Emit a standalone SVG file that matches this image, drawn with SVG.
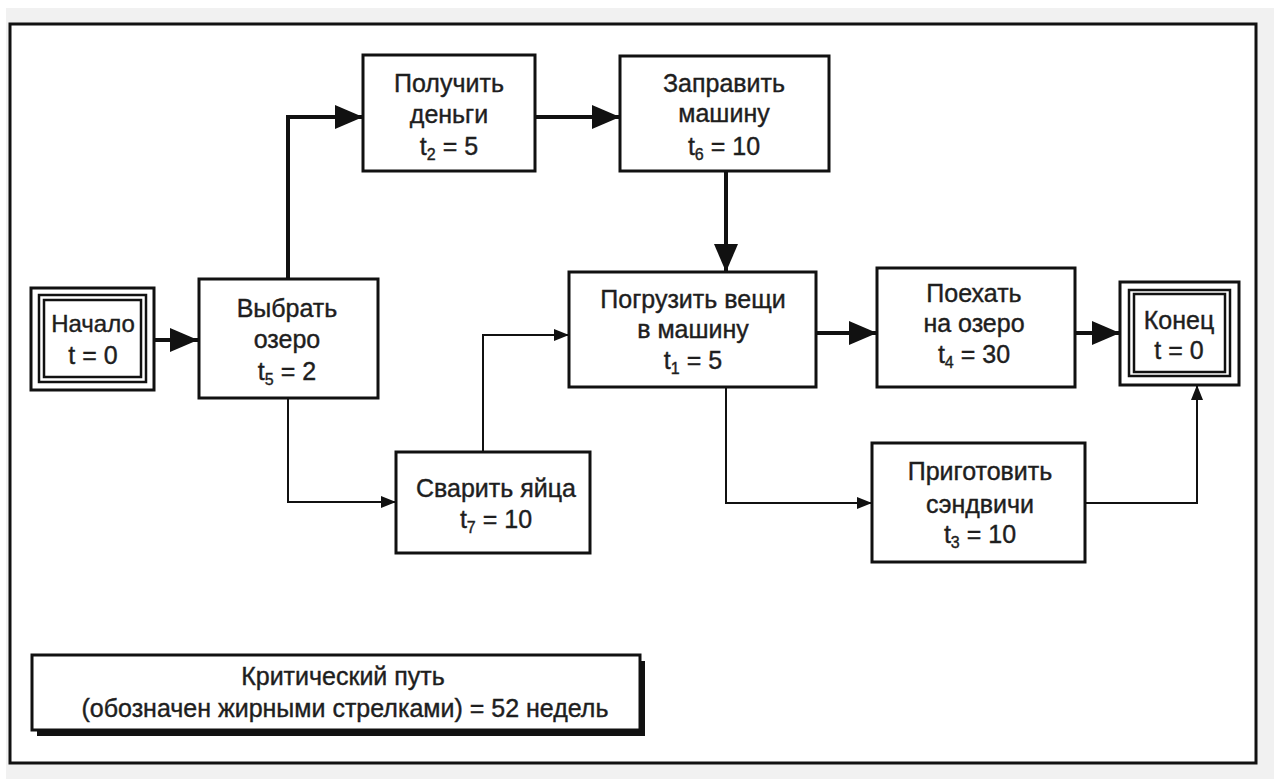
<svg xmlns="http://www.w3.org/2000/svg" width="1280" height="779" viewBox="0 0 1280 779">
<style>
.box{fill:#fff;stroke:#111;stroke-width:3}
.dbl{fill:none;stroke:#111;stroke-width:2.5}
.bold{fill:none;stroke:#111;stroke-width:4}
.thin{fill:none;stroke:#111;stroke-width:2}
text{font-family:"Liberation Sans",Arial,sans-serif;font-size:25px;fill:#1e1e1e;stroke:#1e1e1e;stroke-width:0.4;text-anchor:middle}
.sub{font-size:16px}
</style>
<defs>
<marker id="big" markerUnits="userSpaceOnUse" markerWidth="30" markerHeight="24" refX="28" refY="12" orient="auto">
<path d="M0,0 L28,12 L0,24 Z" fill="#111"/>
</marker>
<marker id="small" markerUnits="userSpaceOnUse" markerWidth="16" markerHeight="12" refX="15" refY="6" orient="auto">
<path d="M0,0 L15,6 L0,12 Z" fill="#111"/>
</marker>
</defs>
<rect x="0" y="0" width="1280" height="779" fill="#fff"/>
<rect x="6" y="8" width="1268" height="771" fill="#f1f1f1"/>
<rect id="frame" x="10" y="24" width="1246" height="739" fill="#fff" stroke="#111" stroke-width="3"/>

<g id="connectors">
<path class="bold" d="M155,340 H198" marker-end="url(#big)"/>
<path class="bold" d="M288,279 V117 H363" marker-end="url(#big)"/>
<path class="bold" d="M535,117 H620" marker-end="url(#big)"/>
<path class="bold" d="M726,171 V272" marker-end="url(#big)"/>
<path class="bold" d="M816,333 H877" marker-end="url(#big)"/>
<path class="bold" d="M1075,333 H1120" marker-end="url(#big)"/>
<path class="thin" d="M288,398 V502 H396" marker-end="url(#small)"/>
<path class="thin" d="M483,452 V335 H569" marker-end="url(#small)"/>
<path class="thin" d="M726,387 V503 H872" marker-end="url(#small)"/>
<path class="thin" d="M1085,503 H1197 V385" marker-end="url(#small)"/>
</g>

<g id="start">
<rect class="box" x="31" y="288" width="123" height="102"/>
<rect class="dbl" x="39" y="295" width="107" height="87"/>
<rect class="dbl" x="44" y="300" width="97" height="77"/>
<text x="93" y="332" style="font-size:24px">Начало</text>
<text x="93" y="364">t = 0</text>
</g>

<g id="choose">
<rect class="box" x="199" y="279" width="179" height="119"/>
<text x="287" y="317">Выбрать</text>
<text x="287" y="348">озеро</text>
<text x="287" y="380">t<tspan class="sub" dy="5">5</tspan><tspan dy="-5"> = 2</tspan></text>
</g>

<g id="money">
<rect class="box" x="363" y="55" width="172" height="116"/>
<text x="449" y="92">Получить</text>
<text x="449" y="123">деньги</text>
<text x="449" y="155">t<tspan class="sub" dy="5">2</tspan><tspan dy="-5"> = 5</tspan></text>
</g>

<g id="fuel">
<rect class="box" x="620" y="56" width="209" height="115"/>
<text x="724" y="92">Заправить</text>
<text x="724" y="122">машину</text>
<text x="724" y="155">t<tspan class="sub" dy="5">6</tspan><tspan dy="-5"> = 10</tspan></text>
</g>

<g id="load">
<rect class="box" x="569" y="272" width="247" height="115"/>
<text x="693" y="308">Погрузить вещи</text>
<text x="693" y="338">в машину</text>
<text x="693" y="369">t<tspan class="sub" dy="5">1</tspan><tspan dy="-5"> = 5</tspan></text>
</g>

<g id="drive">
<rect class="box" x="877" y="268" width="198" height="119"/>
<text x="974" y="302">Поехать</text>
<text x="974" y="332">на озеро</text>
<text x="974" y="363">t<tspan class="sub" dy="5">4</tspan><tspan dy="-5"> = 30</tspan></text>
</g>

<g id="end">
<rect class="box" x="1120" y="282" width="119" height="103"/>
<rect class="dbl" x="1129" y="290" width="101" height="86"/>
<rect class="dbl" x="1134" y="294" width="91" height="78"/>
<text x="1179" y="329">Конец</text>
<text x="1179" y="359">t = 0</text>
</g>

<g id="eggs">
<rect class="box" x="396" y="452" width="194" height="101"/>
<text x="496" y="497">Сварить яйца</text>
<text x="496" y="528">t<tspan class="sub" dy="5">7</tspan><tspan dy="-5"> = 10</tspan></text>
</g>

<g id="sandwich">
<rect class="box" x="872" y="443" width="213" height="119"/>
<text x="980" y="480">Приготовить</text>
<text x="980" y="513">сэндвичи</text>
<text x="980" y="543">t<tspan class="sub" dy="5">3</tspan><tspan dy="-5"> = 10</tspan></text>
</g>

<g id="legend">
<rect x="37" y="661" width="608" height="75" fill="#111"/>
<rect class="box" x="32" y="655" width="608" height="75"/>
<text x="343" y="685">Критический путь</text>
<text x="345" y="717">(обозначен жирными стрелками) = 52 недель</text>
</g>
</svg>
